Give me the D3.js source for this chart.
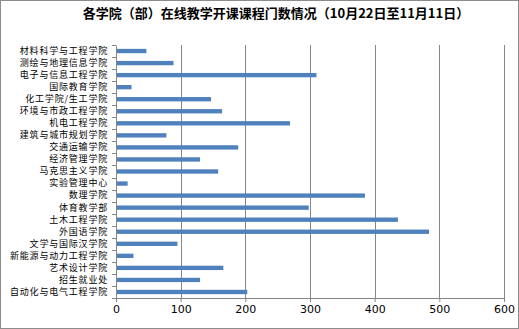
<!DOCTYPE html>
<html>
<head>
<meta charset="utf-8">
<script src="https://cdn.jsdelivr.net/npm/d3@7"></script>
<style>
  body { margin: 0; background: #fff; }
  svg { display: block; }
</style>
</head>
<body>
<svg width="519" height="329"></svg>
<script>
// data
var departments = [
    "材料科学与工程学院", "测绘与地理信息学院", "电子与信息工程学院", "国际教育学院",
    "化工学院/生工学院", "环境与市政工程学院", "机电工程学院", "建筑与城市规划学院",
    "交通运输学院", "经济管理学院", "马克思主义学院", "实验管理中心", "数理学院",
    "体育教学部", "土木工程学院", "外国语学院", "文学与国际汉学院",
    "新能源与动力工程学院", "艺术设计学院", "招生就业处", "自动化与电气工程学院"
];
var courseCounts = [47, 89, 310, 24, 147, 164, 269, 78, 189, 130, 158, 18, 385, 298, 436, 484, 95, 27, 166, 130, 203];
var xTicks = [0, 100, 200, 300, 400, 500, 600];
var title = "各学院（部）在线教学开课课程门数情况（10月22日至11月11日）";

var svg = d3.select("svg"),
    width = +svg.attr("width"),
    height = +svg.attr("height");

var margin = {top: 45, right: 15, bottom: 31, left: 116};

var data = departments.map(function (d, i) {
    return {name: d, value: courseCounts[i]};
});

// outer frame
svg.append("rect")
    .attr("x", 0.5).attr("y", 0.5)
    .attr("width", width - 1).attr("height", height - 1)
    .attr("fill", "#fff")
    .attr("stroke", "#8c8c8c");

var x = d3.scaleLinear()
    .domain([0, 600])
    .range([margin.left, width - margin.right]);

var y = d3.scaleBand()
    .domain(departments)
    .range([margin.top, height - margin.bottom])
    .paddingInner(0.64)
    .paddingOuter(0.32);

// gridlines
svg.append("g")
    .attr("class", "grid")
    .selectAll("line")
    .data(xTicks.slice(1))
    .enter().append("line")
    .attr("x1", function (d) { return Math.round(x(d)) + 0.5; })
    .attr("x2", function (d) { return Math.round(x(d)) + 0.5; })
    .attr("y1", margin.top)
    .attr("y2", height - margin.bottom)
    .attr("stroke", "#868686")
    .attr("stroke-width", 1);

// bars
svg.append("g")
    .attr("class", "bars")
    .selectAll("rect")
    .data(data)
    .enter().append("rect")
    .attr("x", x(0))
    .attr("y", function (d) { return y(d.name); })
    .attr("width", function (d) { return x(d.value) - x(0); })
    .attr("height", y.bandwidth())
    .attr("fill", "#4f81bd");

// x axis
var xAxis = svg.append("g")
    .attr("transform", "translate(0," + (height - margin.bottom) + ")")
    .call(d3.axisBottom(x).tickValues(xTicks).tickSize(4).tickPadding(3));
xAxis.select(".domain").attr("stroke", "#868686");
xAxis.selectAll(".tick line").attr("stroke", "#868686");
xAxis.selectAll("text")
    .attr("fill", "#000")
    .style("font-family", "'DejaVu Sans', sans-serif")
    .style("font-size", "11px");

// y axis, ticks at band boundaries
var yAxis = svg.append("g")
    .attr("transform", "translate(" + x(0) + ",0)")
    .call(d3.axisLeft(y).tickSize(0).tickPadding(8));
yAxis.select(".domain").attr("stroke", "#868686");
yAxis.selectAll("text")
    .attr("fill", "#000")
    .style("font-family", "'Noto Sans CJK SC', sans-serif")
    .style("font-size", "9px")
    .style("letter-spacing", "0.8px");

var bounds = d3.range(departments.length + 1).map(function (i) {
    return margin.top + i * (height - margin.top - margin.bottom) / departments.length;
});
svg.append("g")
    .selectAll("line")
    .data(bounds)
    .enter().append("line")
    .attr("x1", x(0) - 4)
    .attr("x2", x(0))
    .attr("y1", function (d) { return Math.round(d) + 0.5; })
    .attr("y2", function (d) { return Math.round(d) + 0.5; })
    .attr("stroke", "#868686");

// title
svg.append("text")
    .attr("x", 276)
    .attr("y", 18)
    .attr("text-anchor", "middle")
    .style("font-family", "'Noto Sans CJK SC', sans-serif")
    .style("font-weight", "bold")
    .style("font-size", "13px")
    .text(title);
</script>
</body>
</html>
